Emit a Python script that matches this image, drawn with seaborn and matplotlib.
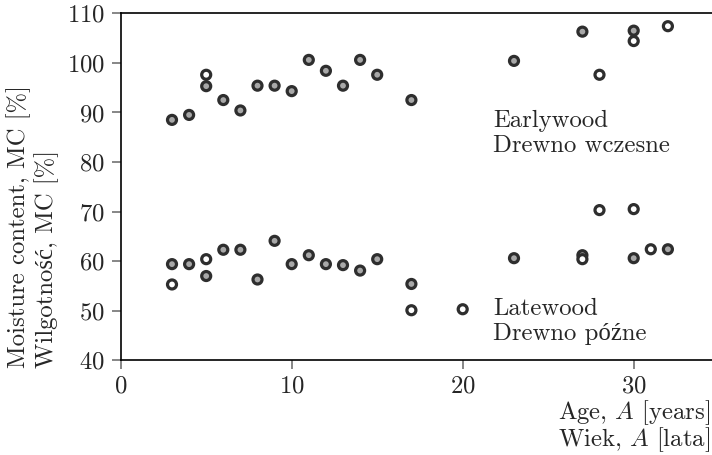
import pandas as pd
import numpy as np
import matplotlib
matplotlib.use("Agg")
import matplotlib.pyplot as plt
import seaborn as sns

sns.set_theme(style="white")
plt.rcParams['font.family'] = ['cmr10', 'Liberation Serif']
plt.rcParams['mathtext.fontset'] = 'cm'
plt.rcParams['axes.formatter.use_mathtext'] = True

# Earlywood, grey-filled markers
early_grey_age = [3, 4, 5, 6, 7, 8, 9, 10, 11, 12, 13, 14, 15, 17, 23, 27, 30]
early_grey_mc = [88.5, 89.5, 95.3, 92.5, 90.4, 95.4, 95.4, 94.3, 100.6, 98.4,
                 95.4, 100.6, 97.6, 92.5, 100.4, 106.3, 106.5]
# Earlywood, open markers
early_open_age = [5, 28, 30, 32]
early_open_mc = [97.6, 97.6, 104.4, 107.4]

# Latewood, grey-filled markers
late_grey_age = [3, 4, 5, 6, 7, 8, 9, 10, 11, 12, 13, 14, 15, 17, 23, 27, 30, 32]
late_grey_mc = [59.4, 59.4, 57.0, 62.3, 62.3, 56.3, 64.1, 59.4, 61.2, 59.4,
                59.2, 58.1, 60.4, 55.4, 60.6, 61.2, 60.6, 62.4]
# Latewood, open markers
late_open_age = [3, 5, 17, 20, 27, 28, 30, 31]
late_open_mc = [55.3, 60.4, 50.1, 50.3, 60.4, 70.3, 70.5, 62.4]

frames = []
for age, mc, fill in [(early_grey_age, early_grey_mc, 'grey'),
                      (early_open_age, early_open_mc, 'open'),
                      (late_grey_age, late_grey_mc, 'grey'),
                      (late_open_age, late_open_mc, 'open')]:
    frames.append(pd.DataFrame({'age': age, 'mc': mc, 'fill': fill}))
df = pd.concat(frames, ignore_index=True)

fig = plt.figure(figsize=(7.12, 4.55), dpi=100)
ax = fig.add_axes([120.7 / 712, 1 - 360.3 / 455, 35 * 17.1 / 712, 347 / 455])

sns.scatterplot(data=df, x='age', y='mc', hue='fill',
                palette={'grey': '#a8a8a8', 'open': 'white'},
                edgecolor='#2e2e2e', linewidth=2.3, s=42,
                legend=False, ax=ax, zorder=3)

ax.set_xlim(0, 35)
ax.set_ylim(40, 110)
ax.set_xticks([0, 10, 20, 30])
ax.set_yticks(np.arange(40, 111, 10))

for side in ['left', 'bottom', 'top']:
    ax.spines[side].set_color('black')
    ax.spines[side].set_linewidth(1.2)
ax.spines['right'].set_visible(False)

FS = 17.8
ax.tick_params(axis='both', which='major', direction='out', length=6.2,
               width=1.1, color='#666666', labelsize=FS, pad=5,
               bottom=True, left=True)

# multi-line text: baseline refers to the last line
ax.text(21.8, 82.1, 'Earlywood\nDrewno wczesne', fontsize=FS,
        va='baseline', ha='left', linespacing=1.16)
ax.text(21.8, 44.1, 'Latewood\nDrewno późne', fontsize=FS,
        va='baseline', ha='left', linespacing=1.16)

ax.set_ylabel('Moisture content, MC [%]\nWilgotność, MC [%]', fontsize=FS,
              loc='bottom', multialignment='left', linespacing=1.16)
ax.yaxis.set_label_coords(-0.103, -0.022)

ax.set_xlabel('Age, $A$ [years]\nWiek, $A$ [lata]', fontsize=FS,
              loc='right', multialignment='right', linespacing=0.95)
ax.xaxis.set_label_coords((710 - 120.7) / (35 * 17.1), -0.108)

fig.savefig('out.png', dpi=100)
